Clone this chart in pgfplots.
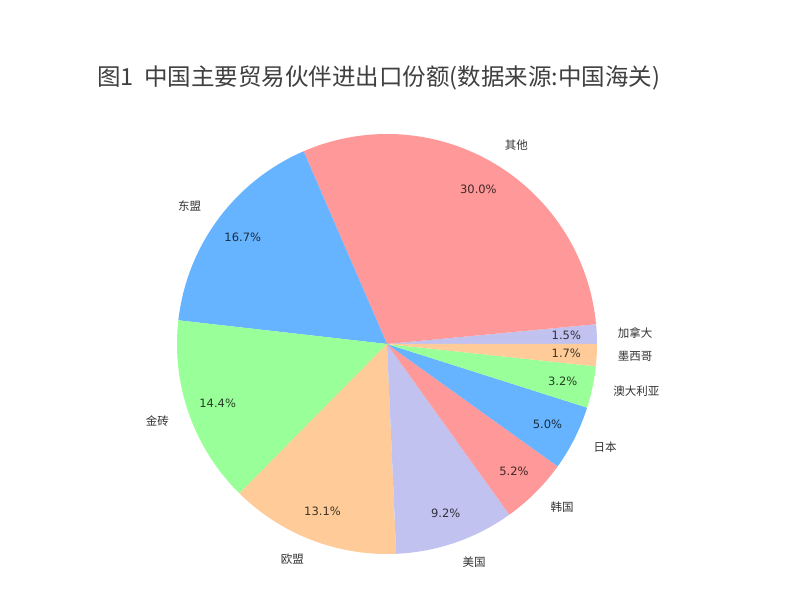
\documentclass[border=0pt]{standalone}
\usepackage{pgfplots}
\usepackage{pgfplotstable}
\pgfplotsset{compat=1.18}
\usepackage{fontspec}
\setmainfont{DejaVu Sans}
\newfontfamily\cjk{Noto Sans CJK SC}
\definecolor{cA}{HTML}{FF9999}
\definecolor{cB}{HTML}{66B3FF}
\definecolor{cC}{HTML}{99FF99}
\definecolor{cD}{HTML}{FFCC99}
\definecolor{cE}{HTML}{C2C2F0}
\pgfplotstableread{
name value col
加拿大 1.5 cE
其他 30.0 cA
东盟 16.7 cB
金砖 14.4 cC
欧盟 13.1 cD
美国 9.2 cE
韩国 5.2 cA
日本 5.0 cB
澳大利亚 3.2 cC
墨西哥 1.7 cD
}\piedata
\begin{document}
\begin{tikzpicture}
\begin{axis}[width=785pt, height=597pt, scale only axis,
  xmin=0, xmax=785, ymin=0, ymax=597, axis lines=none, clip=false]
\fill[white] (axis cs:0,0) rectangle (axis cs:785,597);
\def\cx{387}\def\cy{253}\def\R{210}
\gdef\cum{0}
\pgfplotsforeachungrouped \i in {0,...,9}{%
  \pgfplotstablegetelem{\i}{value}\of\piedata \let\v\pgfplotsretval
  \pgfplotstablegetelem{\i}{col}\of\piedata \let\c\pgfplotsretval
  \pgfplotstablegetelem{\i}{name}\of\piedata \let\nm\pgfplotsretval
  \pgfmathsetmacro\a{\cum*3.6}%
  \pgfmathsetmacro\nc{\cum+\v}%
  \pgfmathsetmacro\b{\nc*3.6}%
  \global\let\cum\nc
  \pgfmathsetmacro\m{(\a+\b)/2}%
  \pgfmathsetmacro\px{\cx+0.855*\R*cos(\m)}%
  \pgfmathsetmacro\py{\cy+0.855*\R*sin(\m)}%
  \pgfmathsetmacro\lx{\cx+1.1*\R*cos(\m)}%
  \pgfmathsetmacro\ly{\cy+1.1*\R*sin(\m)}%
  \pgfmathparse{cos(\m)>0}%
  \ifdim\pgfmathresult pt>0.5pt \def\anc{west}\else\def\anc{east}\fi
  \edef\cmd{%
    \noexpand\addplot[fill=\c, draw=none, domain=\a:\b, samples=80, variable=\noexpand\t]
      ({\cx+\R*cos(\noexpand\t)},{\cy+\R*sin(\noexpand\t)}) -- (axis cs:\cx,\cy) -- cycle;
    \noexpand\node[font=\noexpand\fontsize{11.5}{13}\noexpand\selectfont, text=\c!25!black] at (axis cs:\px,\py) {\v\noexpand\%};
    \noexpand\node[font=\noexpand\cjk\noexpand\fontsize{11.5}{13}\noexpand\selectfont, text=black!80, anchor=\anc, inner sep=0pt] at (axis cs:\lx,\ly) {\nm};
  }%
  \cmd
}
\node[anchor=west, font=\cjk\fontsize{23.5}{27}\selectfont, text=black!75, inner sep=0pt] at (axis cs:97,519) {图1\hspace{0.45em}中国主要贸易伙伴进出口份额(数据来源:中国海关)};
\end{axis}
\pgfresetboundingbox
\path (0,0) rectangle (785pt,597pt);
\end{tikzpicture}
\end{document}
